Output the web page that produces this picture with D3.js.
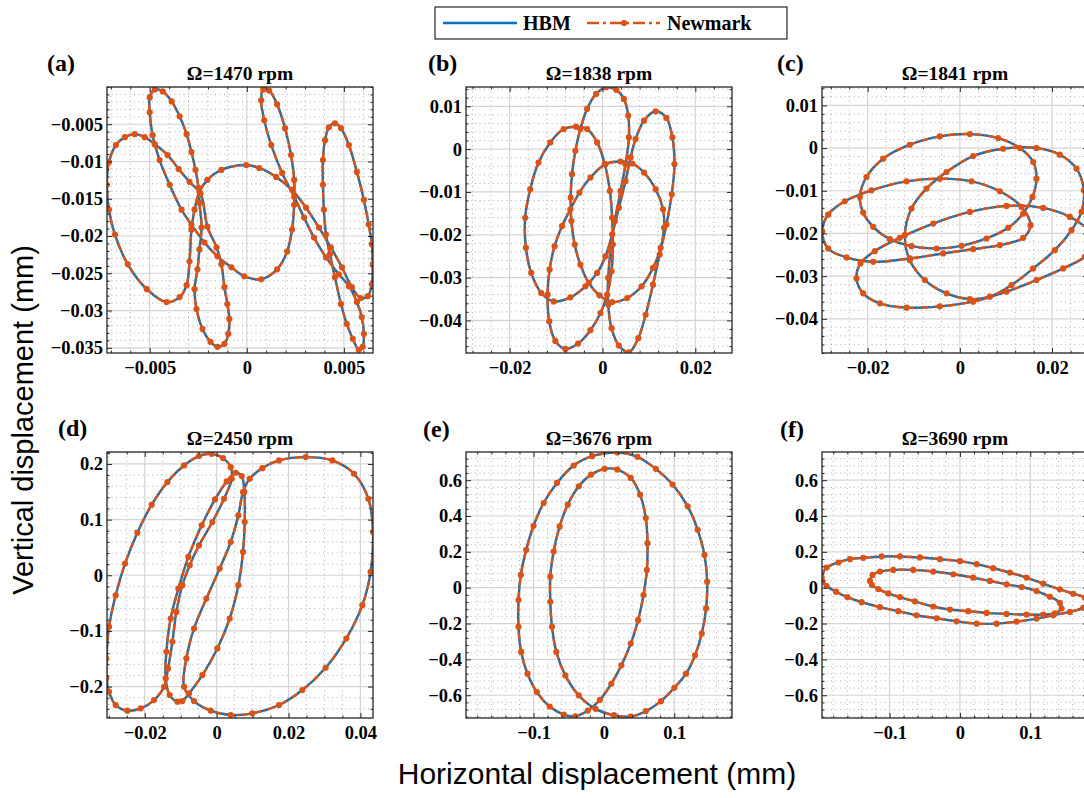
<!DOCTYPE html>
<html>
<head>
<meta charset="utf-8">
<script src="https://cdn.jsdelivr.net/npm/d3@7"></script>
<style>
  body { margin: 0; background: #fff; }
  text { font-family: "Liberation Serif", "Times New Roman", serif; font-weight: bold; }
</style>
</head>
<body>
<script>
// orbit points, [horizontal, vertical] in mm
// (a) one closed orbit
var orbitA = [[-0.00474,-0.00033],[-0.00433,-0.00060],[-0.00387,-0.00193],[-0.00346,-0.00393],[-0.00310,-0.00633],[-0.00285,-0.00873],[-0.00264,-0.01113],[-0.00249,-0.01353],[-0.00244,-0.01553],[-0.00233,-0.01887],[-0.00244,-0.02180],[-0.00254,-0.02447],[-0.00269,-0.02713],[-0.00259,-0.02980],[-0.00228,-0.03247],[-0.00187,-0.03420],[-0.00151,-0.03487],[-0.00115,-0.03447],[-0.00095,-0.03313],[-0.00090,-0.03113],[-0.00100,-0.02913],[-0.00115,-0.02687],[-0.00131,-0.02380],[-0.00156,-0.02153],[-0.00203,-0.01873],[-0.00238,-0.01433],[-0.00295,-0.01273],[-0.00351,-0.01100],[-0.00408,-0.00913],[-0.00474,-0.00767],[-0.00526,-0.00673],[-0.00577,-0.00633],[-0.00628,-0.00673],[-0.00674,-0.00780],[-0.00710,-0.01007],[-0.00721,-0.01313],[-0.00710,-0.01647],[-0.00679,-0.01980],[-0.00613,-0.02380],[-0.00515,-0.02713],[-0.00413,-0.02887],[-0.00346,-0.02820],[-0.00310,-0.02660],[-0.00295,-0.02340],[-0.00285,-0.01913],[-0.00269,-0.01647],[-0.00244,-0.01407],[-0.00203,-0.01247],[-0.00131,-0.01113],[-0.00003,-0.01047],[0.00064,-0.01087],[0.00151,-0.01207],[0.00233,-0.01380],[0.00305,-0.01620],[0.00372,-0.01887],[0.00433,-0.02153],[0.00490,-0.02420],[0.00541,-0.02687],[0.00587,-0.02833],[0.00623,-0.02807],[0.00644,-0.02647],[0.00649,-0.02380],[0.00644,-0.02113],[0.00628,-0.01847],[0.00603,-0.01513],[0.00567,-0.01140],[0.00526,-0.00780],[0.00485,-0.00553],[0.00454,-0.00487],[0.00423,-0.00540],[0.00403,-0.00713],[0.00392,-0.00980],[0.00392,-0.01313],[0.00397,-0.01647],[0.00408,-0.01980],[0.00428,-0.02247],[0.00454,-0.02553],[0.00485,-0.02913],[0.00515,-0.03180],[0.00546,-0.03380],[0.00577,-0.03527],[0.00597,-0.03487],[0.00603,-0.03313],[0.00592,-0.03087],[0.00567,-0.02887],[0.00526,-0.02673],[0.00474,-0.02513],[0.00408,-0.02287],[0.00346,-0.02020],[0.00295,-0.01753],[0.00244,-0.01473],[0.00182,-0.01153],[0.00126,-0.00780],[0.00090,-0.00447],[0.00074,-0.00180],[0.00085,-0.00033],[0.00115,-0.00047],[0.00156,-0.00233],[0.00197,-0.00553],[0.00228,-0.00913],[0.00244,-0.01247],[0.00244,-0.01580],[0.00233,-0.01913],[0.00208,-0.02207],[0.00156,-0.02447],[0.00074,-0.02580],[-0.00013,-0.02540],[-0.00079,-0.02420],[-0.00151,-0.02273],[-0.00218,-0.02087],[-0.00285,-0.01847],[-0.00336,-0.01647],[-0.00397,-0.01313],[-0.00449,-0.00980],[-0.00485,-0.00647],[-0.00500,-0.00340],[-0.00500,-0.00140]];

// (b) one closed orbit
var orbitB = [[0.00079,0.01445],[-0.00137,0.01289],[-0.00332,0.00938],[-0.00476,0.00469],[-0.00584,-0.00039],[-0.00656,-0.00586],[-0.00685,-0.01133],[-0.00670,-0.01680],[-0.00598,-0.02227],[-0.00476,-0.02695],[-0.00295,-0.03125],[-0.00065,-0.03414],[0.00209,-0.03570],[0.00533,-0.03477],[0.00843,-0.03203],[0.01088,-0.02773],[0.01254,-0.02305],[0.01326,-0.01836],[0.01305,-0.01406],[0.01146,-0.00938],[0.00894,-0.00547],[0.00641,-0.00336],[0.00389,-0.00289],[0.00065,-0.00352],[-0.00259,-0.00664],[-0.00497,-0.01016],[-0.00692,-0.01406],[-0.00872,-0.01797],[-0.01031,-0.02266],[-0.01139,-0.02813],[-0.01182,-0.03398],[-0.01146,-0.04023],[-0.01016,-0.04477],[-0.00800,-0.04664],[-0.00526,-0.04539],[-0.00259,-0.04227],[-0.00043,-0.03828],[0.00101,-0.03398],[0.00195,-0.02852],[0.00223,-0.02227],[0.00209,-0.01602],[0.00159,-0.00977],[0.00050,-0.00352],[-0.00115,0.00156],[-0.00332,0.00469],[-0.00569,0.00523],[-0.00836,0.00469],[-0.01124,0.00156],[-0.01377,-0.00313],[-0.01557,-0.00938],[-0.01665,-0.01602],[-0.01650,-0.02305],[-0.01535,-0.02891],[-0.01319,-0.03359],[-0.01052,-0.03555],[-0.00692,-0.03461],[-0.00368,-0.03203],[-0.00115,-0.02891],[0.00065,-0.02500],[0.00209,-0.01992],[0.00353,-0.01367],[0.00497,-0.00742],[0.00605,-0.00195],[0.00714,0.00234],[0.00894,0.00664],[0.01146,0.00883],[0.01377,0.00727],[0.01506,0.00273],[0.01550,-0.00352],[0.01492,-0.01055],[0.01377,-0.01758],[0.01232,-0.02461],[0.01088,-0.03164],[0.00930,-0.03867],[0.00771,-0.04414],[0.00569,-0.04742],[0.00353,-0.04586],[0.00195,-0.04180],[0.00123,-0.03633],[0.00123,-0.03008],[0.00173,-0.02383],[0.00267,-0.01680],[0.00389,-0.00977],[0.00497,-0.00352],[0.00569,0.00273],[0.00555,0.00781],[0.00461,0.01172],[0.00295,0.01383]];

// (c) four revolutions
var orbitC1 = [[-0.02169,-0.01145],[-0.02025,-0.00678],[-0.01663,-0.00249],[-0.01085,0.00078],[-0.00434,0.00273],[0.00217,0.00327],[0.00832,0.00234],[0.01302,0.00000],[0.01591,-0.00327],[0.01663,-0.00717],[0.01576,-0.01145],[0.01374,-0.01534],[0.01048,-0.01869],[0.00578,-0.02118],[0.00036,-0.02290],[-0.00506,-0.02352],[-0.01048,-0.02297],[-0.01518,-0.02134],[-0.01880,-0.01846],[-0.02097,-0.01511]];
var orbitC2 = [[-0.01193,-0.02040],[-0.01048,-0.01417],[-0.00723,-0.00950],[-0.00289,-0.00561],[0.00289,-0.00187],[0.00940,-0.00016],[0.01663,0.00000],[0.02169,-0.00156],[0.02531,-0.00483],[0.02690,-0.00989],[0.02639,-0.01495],[0.02422,-0.01924],[0.02061,-0.02391],[0.01591,-0.02819],[0.01121,-0.03209],[0.00651,-0.03481],[0.00217,-0.03536],[-0.00289,-0.03403],[-0.00759,-0.03092],[-0.01085,-0.02625]];
var orbitC3 = [[-0.02986,-0.01947],[-0.02856,-0.01558],[-0.02495,-0.01246],[-0.01916,-0.00989],[-0.01157,-0.00779],[-0.00434,-0.00717],[0.00253,-0.00779],[0.00868,-0.01012],[0.01338,-0.01379],[0.01533,-0.01807],[0.01374,-0.02103],[0.00868,-0.02274],[0.00289,-0.02368],[-0.00362,-0.02469],[-0.01085,-0.02586],[-0.01880,-0.02664],[-0.02458,-0.02562],[-0.02856,-0.02352]];
var orbitC4 = [[-0.02242,-0.03053],[-0.02155,-0.02702],[-0.01844,-0.02414],[-0.01302,-0.02103],[-0.00578,-0.01768],[0.00217,-0.01495],[0.01012,-0.01355],[0.01808,-0.01402],[0.02386,-0.01612],[0.02784,-0.01924],[0.02928,-0.02274],[0.02711,-0.02547],[0.02242,-0.02819],[0.01663,-0.03092],[0.01012,-0.03364],[0.00289,-0.03598],[-0.00434,-0.03707],[-0.01157,-0.03738],[-0.01735,-0.03637],[-0.02097,-0.03403]];

// (d) three revolutions
var orbitD1 = [[-0.03067,-0.1495],[-0.02993,-0.0927],[-0.02808,-0.0359],[-0.02548,0.0209],[-0.02205,0.0765],[-0.01806,0.1268],[-0.01370,0.1674],[-0.00907,0.1973],[-0.00490,0.2141],[-0.00137,0.2182],[0.00178,0.2105],[0.00391,0.1943],[0.00419,0.1734],[0.00206,0.1375],[-0.00119,0.0957],[-0.00490,0.0538],[-0.00749,0.0179],[-0.00953,-0.0179],[-0.01120,-0.0658],[-0.01231,-0.1196],[-0.01352,-0.1674],[-0.01463,-0.2003],[-0.01741,-0.2242],[-0.02112,-0.2392],[-0.02483,-0.2433],[-0.02808,-0.2332],[-0.02993,-0.2093],[-0.03067,-0.1854]];
var orbitD2 = [[-0.01092,-0.2272],[-0.01306,-0.2152],[-0.01417,-0.1854],[-0.01398,-0.1375],[-0.01278,-0.0777],[-0.01064,-0.0239],[-0.00786,0.0329],[-0.00415,0.0897],[-0.00045,0.1363],[0.00280,0.1686],[0.00530,0.1842],[0.00697,0.1782],[0.00771,0.1495],[0.00781,0.0957],[0.00734,0.0419],[0.00604,-0.0179],[0.00363,-0.0777],[0.00020,-0.1315],[-0.00397,-0.1794],[-0.00768,-0.2123],[-0.00953,-0.2260]];
var orbitD3 = [[-0.00907,-0.2003],[-0.00842,-0.1495],[-0.00629,-0.0957],[-0.00286,-0.0419],[0.00085,0.0120],[0.00391,0.0598],[0.00604,0.1076],[0.00734,0.1495],[0.00920,0.1734],[0.01272,0.1925],[0.01736,0.2063],[0.02478,0.2123],[0.03219,0.2063],[0.03822,0.1824],[0.04220,0.1375],[0.04350,0.0777],[0.04285,0.0060],[0.04053,-0.0538],[0.03608,-0.1136],[0.03033,-0.1662],[0.02384,-0.2063],[0.01736,-0.2332],[0.00994,-0.2481],[0.00391,-0.2511],[-0.00165,-0.2433],[-0.00629,-0.2260]];

// (e) one closed orbit (outer and inner loop)
var orbitE = [[0.0190,0.7544],[-0.0167,0.7339],[-0.0429,0.6816],[-0.0667,0.5845],[-0.0857,0.4725],[-0.1000,0.3455],[-0.1105,0.2110],[-0.1181,0.0710],[-0.1214,-0.0691],[-0.1214,-0.2185],[-0.1176,-0.3585],[-0.1086,-0.4799],[-0.0952,-0.5826],[-0.0771,-0.6629],[-0.0571,-0.7077],[-0.0405,-0.7171],[-0.0229,-0.6853],[-0.0057,-0.6256],[0.0105,-0.5359],[0.0248,-0.4332],[0.0381,-0.3119],[0.0486,-0.1811],[0.0562,-0.0411],[0.0610,0.0990],[0.0619,0.2484],[0.0595,0.3884],[0.0514,0.5191],[0.0381,0.6125],[0.0190,0.6592],[0.0010,0.6629],[-0.0181,0.6312],[-0.0357,0.5658],[-0.0514,0.4631],[-0.0629,0.3417],[-0.0714,0.2017],[-0.0762,0.0616],[-0.0762,-0.0784],[-0.0738,-0.2185],[-0.0676,-0.3585],[-0.0548,-0.4893],[-0.0357,-0.6013],[-0.0119,-0.6760],[0.0143,-0.7115],[0.0381,-0.7190],[0.0595,-0.6891],[0.0810,-0.6331],[0.1000,-0.5584],[0.1167,-0.4799],[0.1295,-0.3772],[0.1390,-0.2558],[0.1452,-0.1158],[0.1467,0.0336],[0.1429,0.1830],[0.1333,0.3231],[0.1190,0.4538],[0.0976,0.5752],[0.0738,0.6629],[0.0476,0.7302]];

// (f) two revolutions
var orbitF1 = [[-0.1965,0.0562],[-0.1894,0.1125],[-0.1728,0.1406],[-0.1563,0.1593],[-0.1373,0.1668],[-0.1113,0.1743],[-0.0852,0.1743],[-0.0568,0.1687],[-0.0284,0.1593],[0.0000,0.1481],[0.0237,0.1312],[0.0473,0.1087],[0.0710,0.0843],[0.0947,0.0562],[0.1184,0.0225],[0.1420,-0.0094],[0.1610,-0.0337],[0.1776,-0.0562],[0.1823,-0.0900],[0.1752,-0.1125],[0.1563,-0.1350],[0.1326,-0.1537],[0.1089,-0.1724],[0.0805,-0.1893],[0.0521,-0.2006],[0.0237,-0.2006],[-0.0047,-0.1874],[-0.0331,-0.1706],[-0.0616,-0.1537],[-0.0876,-0.1312],[-0.1136,-0.1087],[-0.1397,-0.0806],[-0.1600,-0.0525],[-0.1761,-0.0225],[-0.1894,0.0094],[-0.1951,0.0337]];
var orbitF2 = [[-0.1278,0.0375],[-0.1241,0.0712],[-0.1136,0.0900],[-0.0947,0.0993],[-0.0663,0.0993],[-0.0379,0.0900],[-0.0095,0.0750],[0.0189,0.0562],[0.0426,0.0375],[0.0663,0.0187],[0.0876,0.0037],[0.1089,-0.0187],[0.1278,-0.0506],[0.1420,-0.0843],[0.1444,-0.1162],[0.1349,-0.1425],[0.1184,-0.1500],[0.0947,-0.1500],[0.0663,-0.1462],[0.0379,-0.1406],[0.0118,-0.1312],[-0.0142,-0.1218],[-0.0379,-0.1050],[-0.0639,-0.0768],[-0.0852,-0.0525],[-0.1018,-0.0319],[-0.1160,-0.0075],[-0.1250,0.0150]];

// speeds and tick values
var speeds = [1470, 1838, 1841, 2450, 3676, 3690];
var panelLabels = ["(a)", "(b)", "(c)", "(d)", "(e)", "(f)"];
var ticksXa = [-0.005, 0, 0.005], ticksYa = [-0.035, -0.03, -0.025, -0.02, -0.015, -0.01, -0.005];
var ticksXbc = [-0.02, 0, 0.02], ticksYbc = [-0.04, -0.03, -0.02, -0.01, 0, 0.01];
var ticksXd = [-0.02, 0, 0.02, 0.04], ticksYd = [-0.2, -0.1, 0, 0.1, 0.2];
var ticksXef = [-0.1, 0, 0.1], ticksYef = [-0.6, -0.4, -0.2, 0, 0.2, 0.4, 0.6];

var W = 266, H = 266;
var blue = "#0072BD", orange = "#D95319";
var serif = "'Liberation Serif', 'Times New Roman', serif";
var sans = "'Liberation Sans', Arial, sans-serif";

var panels = [
    {left: 107, top: 87, labelX: 47, labelY: 71, xDom: [-0.0072, 0.0065], yDom: [-0.0357, 0], xT: ticksXa, yT: ticksYa, xm: 0.001, ym: 0.001, loops: [orbitA]},
    {left: 466, top: 87, labelX: 428, labelY: 71, xDom: [-0.0294, 0.0279], yDom: [-0.0476, 0.0145], xT: ticksXbc, yT: ticksYbc, xm: 0.004, ym: 0.002, loops: [orbitB]},
    {left: 822, top: 87, labelX: 777, labelY: 71, xDom: [-0.0299, 0.0278], yDom: [-0.0480, 0.0143], xT: ticksXbc, yT: ticksYbc, xm: 0.004, ym: 0.002, loops: [orbitC1, orbitC2, orbitC3, orbitC4]},
    {left: 107, top: 452, labelX: 58, labelY: 436, xDom: [-0.0305, 0.0435], yDom: [-0.2565, 0.2215], xT: ticksXd, yT: ticksYd, xm: 0.005, ym: 0.02, loops: [orbitD1, orbitD2, orbitD3]},
    {left: 466, top: 452, labelX: 423, labelY: 437, xDom: [-0.196, 0.182], yDom: [-0.727, 0.757], xT: ticksXef, yT: ticksYef, xm: 0.02, ym: 0.04, loops: [orbitE]},
    {left: 822, top: 452, labelX: 780, labelY: 437, xDom: [-0.196, 0.182], yDom: [-0.727, 0.757], xT: ticksXef, yT: ticksYef, xm: 0.02, ym: 0.04, loops: [orbitF1, orbitF2]}
];

var fmt = d3.format("~g");

function minorTicks(dom, step, major) {
    var out = [];
    var k0 = Math.ceil(dom[0] / step), k1 = Math.floor(dom[1] / step);
    for (var k = k0; k <= k1; k++) {
        var v = k * step;
        if (!major.some(function (m) { return Math.abs(m - v) < step * 0.01; })) out.push(v);
    }
    return out;
}

function styleAxis(sel) {
    sel.select(".domain").remove();
    sel.selectAll(".tick line").attr("stroke", "#262626").attr("stroke-width", 1);
    sel.attr("font-size", 18);
    sel.selectAll(".tick text").attr("fill", "#000")
        .style("font-family", serif).style("font-weight", "bold").style("font-size", "18.5px");
}

var svg = d3.select("body").append("svg")
    .attr("width", 1084)
    .attr("height", 798);

panels.forEach(function (p, i) {
    var x = d3.scaleLinear().domain(p.xDom).range([0, W]);
    var y = d3.scaleLinear().domain(p.yDom).range([H, 0]);
    var g = svg.append("g").attr("transform", "translate(" + p.left + "," + p.top + ")");

    g.append("clipPath").attr("id", "clip" + i)
        .append("rect").attr("width", W).attr("height", H);

    var xMinor = minorTicks(p.xDom, p.xm, p.xT), yMinor = minorTicks(p.yDom, p.ym, p.yT);

    // minor grid, dotted
    var ng = g.append("g");
    ng.selectAll(".nx").data(xMinor).join("line").attr("class", "nx")
        .attr("x1", function (d) { return x(d); }).attr("x2", function (d) { return x(d); })
        .attr("y1", 0).attr("y2", H);
    ng.selectAll(".ny").data(yMinor).join("line").attr("class", "ny")
        .attr("y1", function (d) { return y(d); }).attr("y2", function (d) { return y(d); })
        .attr("x1", 0).attr("x2", W);
    ng.selectAll("line").attr("stroke", "#a8a8a8").attr("stroke-width", 0.9).attr("stroke-dasharray", "1,3.5");

    // major grid
    var mg = g.append("g");
    mg.selectAll(".gx").data(p.xT).join("line").attr("class", "gx")
        .attr("x1", function (d) { return x(d); }).attr("x2", function (d) { return x(d); })
        .attr("y1", 0).attr("y2", H);
    mg.selectAll(".gy").data(p.yT).join("line").attr("class", "gy")
        .attr("y1", function (d) { return y(d); }).attr("y2", function (d) { return y(d); })
        .attr("x1", 0).attr("x2", W);
    mg.selectAll("line").attr("stroke", "#d4d4d4").attr("stroke-width", 1.2);

    // orbits
    var line = d3.line()
        .x(function (d) { return x(d[0]); })
        .y(function (d) { return y(d[1]); })
        .curve(d3.curveCatmullRomClosed.alpha(0.5));
    var cg = g.append("g").attr("clip-path", "url(#clip" + i + ")");
    cg.selectAll(".hbm").data(p.loops).join("path").attr("class", "hbm")
        .attr("d", line).attr("fill", "none")
        .attr("stroke", blue).attr("stroke-width", 2.4);
    cg.selectAll(".nm").data(p.loops).join("path").attr("class", "nm")
        .attr("d", line).attr("fill", "none")
        .attr("stroke", orange).attr("stroke-width", 2.4)
        .attr("stroke-dasharray", "7,2.5,1.5,2.5");
    cg.selectAll("circle").data(d3.merge(p.loops)).join("circle")
        .attr("cx", function (d) { return x(d[0]); })
        .attr("cy", function (d) { return y(d[1]); })
        .attr("r", 3.1).attr("fill", orange);

    // ticks, inside on all four sides
    g.append("g").attr("transform", "translate(0," + H + ")")
        .call(d3.axisBottom(x).tickValues(p.xT).tickSize(-5).tickPadding(8).tickFormat(fmt)).call(styleAxis);
    g.append("g")
        .call(d3.axisLeft(y).tickValues(p.yT).tickSize(-5).tickPadding(4).tickFormat(fmt)).call(styleAxis);
    g.append("g").call(d3.axisTop(x).tickValues(p.xT).tickSize(-5).tickFormat("")).call(styleAxis);
    g.append("g").attr("transform", "translate(" + W + ",0)")
        .call(d3.axisRight(y).tickValues(p.yT).tickSize(-5).tickFormat("")).call(styleAxis);
    g.append("g").attr("transform", "translate(0," + H + ")")
        .call(d3.axisBottom(x).tickValues(xMinor).tickSize(-2.5).tickFormat("")).call(styleAxis);
    g.append("g").call(d3.axisLeft(y).tickValues(yMinor).tickSize(-2.5).tickFormat("")).call(styleAxis);
    g.append("g").call(d3.axisTop(x).tickValues(xMinor).tickSize(-2.5).tickFormat("")).call(styleAxis);
    g.append("g").attr("transform", "translate(" + W + ",0)")
        .call(d3.axisRight(y).tickValues(yMinor).tickSize(-2.5).tickFormat("")).call(styleAxis);

    // box
    g.append("rect").attr("width", W).attr("height", H)
        .attr("fill", "none").attr("stroke", "#262626").attr("stroke-width", 1.3);

    // title and panel letter
    g.append("text").attr("x", W / 2).attr("y", -7)
        .attr("text-anchor", "middle").attr("font-size", 19.5)
        .text("\u03A9=" + speeds[i] + " rpm");
    svg.append("text").attr("x", p.labelX).attr("y", p.labelY)
        .attr("font-size", 24).text(panelLabels[i]);
});

// axis labels
svg.append("text")
    .attr("transform", "translate(33,420) rotate(-90)")
    .attr("text-anchor", "middle")
    .style("font-family", sans).style("font-weight", "normal")
    .attr("font-size", 29)
    .text("Vertical displacement (mm)");
svg.append("text")
    .attr("x", 597).attr("y", 784)
    .attr("text-anchor", "middle")
    .style("font-family", sans).style("font-weight", "normal")
    .attr("font-size", 30)
    .text("Horizontal displacement (mm)");

// legend
var lg = svg.append("g");
lg.append("rect").attr("x", 435).attr("y", 7).attr("width", 352).attr("height", 32)
    .attr("fill", "#fff").attr("stroke", "#262626").attr("stroke-width", 1.2);
lg.append("line").attr("x1", 443).attr("x2", 517).attr("y1", 23).attr("y2", 23)
    .attr("stroke", blue).attr("stroke-width", 2.4);
lg.append("text").attr("x", 523).attr("y", 30).attr("font-size", 20).text("HBM");
lg.append("line").attr("x1", 587).attr("x2", 660).attr("y1", 23).attr("y2", 23)
    .attr("stroke", orange).attr("stroke-width", 2.4).attr("stroke-dasharray", "12,4,3,4");
lg.append("circle").attr("cx", 624).attr("cy", 23).attr("r", 3.1).attr("fill", orange);
lg.append("text").attr("x", 667).attr("y", 30).attr("font-size", 20).text("Newmark");
</script>
</body>
</html>
